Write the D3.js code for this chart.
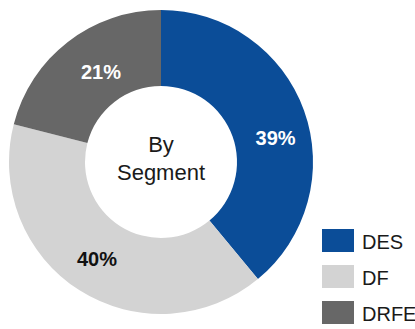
<!DOCTYPE html>
<html>
<head>
<meta charset="utf-8">
<script src="https://cdn.jsdelivr.net/npm/d3@7"></script>
<style>
  body { margin: 0; background: #fff; }
  text { font-family: Arial, "Liberation Sans", sans-serif; }
</style>
</head>
<body>
<div id="chart"></div>
<script>
// data
const segments = ['DES', 'DF', 'DRFE']
const shares = [39, 40, 21]
const colors = ['#0b4d98', '#d3d3d3', '#676767']
const labelColors = ['#ffffff', '#111111', '#ffffff']

const width = 415
const height = 329
const cx = 161, cy = 162
const outerR = 152, innerR = 76

const svg = d3.select('#chart').append('svg')
    .attr('width', width)
    .attr('height', height)

const color = d3.scaleOrdinal().domain(segments).range(colors)

const pie = d3.pie().sort(null).value(d => d.value)
const arcs = pie(segments.map((s, i) => ({ name: s, value: shares[i], i })))

const arc = d3.arc().innerRadius(innerR).outerRadius(outerR)

// label placement: radius and small angle nudge (radians) per slice
const labelR = [117, 116, 108]
const labelNudge = [0.14, 0.02, 0.07]
function labelPos(d) {
    const a = (d.startAngle + d.endAngle) / 2 + labelNudge[d.data.i]
    const r = labelR[d.data.i]
    return [r * Math.sin(a), -r * Math.cos(a)]
}

const g = svg.append('g').attr('transform', `translate(${cx},${cy})`)

g.selectAll('path')
    .data(arcs)
    .enter()
    .append('path')
    .attr('d', arc)
    .attr('fill', d => color(d.data.name))

// percent labels
g.selectAll('.pct')
    .data(arcs)
    .enter()
    .append('text')
    .attr('class', 'pct')
    .attr('transform', d => `translate(${labelPos(d)})`)
    .attr('text-anchor', 'middle')
    .attr('dy', '0.36em')
    .attr('font-size', 20)
    .attr('font-weight', 'bold')
    .attr('fill', d => labelColors[d.data.i])
    .text(d => d.data.value + '%')

// centre text
g.append('text')
    .attr('text-anchor', 'middle')
    .attr('y', -10)
    .attr('font-size', 22)
    .attr('fill', '#1a1a1a')
    .text('By')
g.append('text')
    .attr('text-anchor', 'middle')
    .attr('y', 18)
    .attr('font-size', 22)
    .attr('fill', '#1a1a1a')
    .text('Segment')

// legend
const legend = svg.append('g').attr('transform', 'translate(322,229)')
const legendRow = legend.selectAll('g')
    .data(segments)
    .enter()
    .append('g')
    .attr('transform', (d, i) => `translate(0,${i * 36})`)

legendRow.append('rect')
    .attr('width', 32)
    .attr('height', 23)
    .attr('fill', d => color(d))

legendRow.append('text')
    .attr('x', 40)
    .attr('y', 20)
    .attr('font-size', 20)
    .attr('fill', '#1a1a1a')
    .text(d => d)
</script>
</body>
</html>
